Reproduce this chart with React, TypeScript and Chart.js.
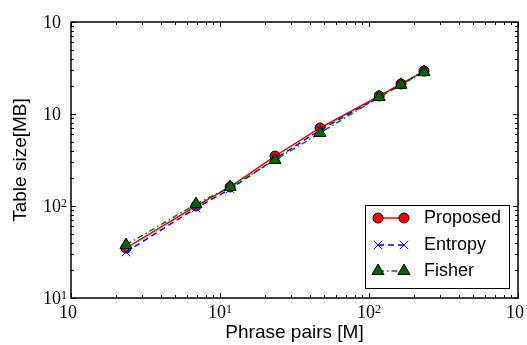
import React, { useEffect, useRef } from "react";
import { Chart, registerables } from "chart.js";

Chart.register(...registerables);

// ---- data ----
const phrasePairs = [2.34, 6.9, 11.7, 23.4, 46.9, 117, 164, 234];
const proposed = [34.9, 100, 161, 349, 705, 1570, 2120, 2930];
const entropy = [31.6, 95, 153, 324, 670, 1530, 2070, 2930];
const fisher = [37.7, 105, 161, 316, 621, 1530, 2080, 2850];
const seriesNames = ["Proposed", "Entropy", "Fisher"];

// tick labels: base "10" with exponent; some exponents are clipped (hidden) in the reference
const xTickExponents = [0, 1, 2, 3];
const xTickSupVisible = [false, true, true, false];
const yTickExponents = [1, 2, 3, 4];
const yTickSupVisible = [true, true, false, false];

const xTitle = "Phrase pairs [M]";
const yTitle = "Table size[MB]";

const SERIF = "'Liberation Serif', 'DejaVu Serif', serif";
const SANS = "'Liberation Sans', Arial, sans-serif";

function drawMarker(ctx: CanvasRenderingContext2D, style: string, x: number, y: number, r: number, fill: string, stroke: string, lw: number) {
  ctx.save();
  ctx.lineWidth = lw;
  ctx.fillStyle = fill;
  ctx.strokeStyle = stroke;
  ctx.beginPath();
  if (style === "circle") {
    ctx.arc(x, y, r, 0, Math.PI * 2);
    ctx.fill();
    ctx.stroke();
  } else if (style === "triangle") {
    let rad = 0;
    ctx.moveTo(x + Math.sin(rad) * r, y - Math.cos(rad) * r);
    rad += (2 * Math.PI) / 3;
    ctx.lineTo(x + Math.sin(rad) * r, y - Math.cos(rad) * r);
    rad += (2 * Math.PI) / 3;
    ctx.lineTo(x + Math.sin(rad) * r, y - Math.cos(rad) * r);
    ctx.closePath();
    ctx.fill();
    ctx.stroke();
  } else if (style === "crossRot") {
    const d = r * Math.SQRT1_2;
    ctx.moveTo(x - d, y - d);
    ctx.lineTo(x + d, y + d);
    ctx.moveTo(x + d, y - d);
    ctx.lineTo(x - d, y + d);
    ctx.stroke();
  }
  ctx.restore();
}

const mplPlugin = {
  id: "mplStyle",
  afterDatasetsDraw(chart: any) {
    const { ctx, chartArea } = chart;
    const { left, right, top, bottom } = chartArea;
    const xs = chart.scales.x;
    const ys = chart.scales.y;
    ctx.save();
    ctx.strokeStyle = "#000";
    ctx.lineWidth = 1;
    // minor & major ticks, inward, on all four sides
    const tickValues = (min: number, max: number) => {
      const out: { v: number; major: boolean }[] = [];
      const e0 = Math.round(Math.log10(min));
      const e1 = Math.round(Math.log10(max));
      for (let e = e0; e < e1; e++) {
        for (let k = 1; k <= 9; k++) out.push({ v: k * Math.pow(10, e), major: k === 1 });
      }
      out.push({ v: Math.pow(10, e1), major: true });
      return out;
    };
    ctx.beginPath();
    for (const t of tickValues(xs.min, xs.max)) {
      const px = Math.round(xs.getPixelForValue(t.v)) + 0.5;
      const len = t.major ? 5 : 3;
      ctx.moveTo(px, bottom);
      ctx.lineTo(px, bottom - len);
      ctx.moveTo(px, top);
      ctx.lineTo(px, top + len);
    }
    for (const t of tickValues(ys.min, ys.max)) {
      const py = Math.round(ys.getPixelForValue(t.v)) + 0.5;
      const len = t.major ? 5 : 3;
      ctx.moveTo(left, py);
      ctx.lineTo(left + len, py);
      ctx.moveTo(right, py);
      ctx.lineTo(right - len, py);
    }
    ctx.stroke();
    // frame
    ctx.lineWidth = 1.5;
    ctx.strokeRect(left, top, right - left, bottom - top);

    // tick labels
    const baseFont = `18px ${SERIF}`;
    const supFont = `12px ${SERIF}`;
    ctx.fillStyle = "#000";
    ctx.textBaseline = "alphabetic";
    ctx.textAlign = "left";
    xTickExponents.forEach((e, i) => {
      const px = xs.getPixelForValue(Math.pow(10, e));
      ctx.font = baseFont;
      const bw = ctx.measureText("10").width;
      ctx.font = supFont;
      const sw = ctx.measureText(String(e)).width;
      const x0 = px - (bw + sw) / 2;
      const base = bottom + 20;
      ctx.font = baseFont;
      ctx.fillText("10", x0, base);
      if (xTickSupVisible[i]) {
        ctx.font = supFont;
        ctx.fillText(String(e), x0 + bw, base - 5.5);
      }
    });
    yTickExponents.forEach((e, i) => {
      const py = ys.getPixelForValue(Math.pow(10, e));
      ctx.font = baseFont;
      const bw = ctx.measureText("10").width;
      ctx.font = supFont;
      const sw = ctx.measureText(String(e)).width;
      const x1 = left - 4;
      const x0 = x1 - sw - bw;
      const base = py + 6;
      ctx.font = baseFont;
      ctx.fillText("10", x0, base);
      if (yTickSupVisible[i]) {
        ctx.font = supFont;
        ctx.fillText(String(e), x0 + bw, base - 5.5);
      }
    });
    ctx.restore();
  },
  afterDraw(chart: any) {
    const { ctx } = chart;
    const bx = 365, by = 205, bw = 144, bh = 83;
    ctx.save();
    ctx.fillStyle = "#fff";
    ctx.fillRect(bx, by, bw, bh);
    ctx.strokeStyle = "#000";
    ctx.lineWidth = 1;
    ctx.strokeRect(bx + 0.5, by + 0.5, bw, bh);
    const rows = [218, 245, 271];
    chart.data.datasets.forEach((ds: any, i: number) => {
      const y = rows[i];
      const x0 = 378, x1 = 404;
      ctx.save();
      ctx.strokeStyle = ds.borderColor;
      ctx.lineWidth = ds.borderWidth;
      ctx.setLineDash(ds.borderDash || []);
      ctx.beginPath();
      ctx.moveTo(x0, y);
      ctx.lineTo(x1, y);
      ctx.stroke();
      ctx.restore();
      for (const mx of [x0, x1]) {
        drawMarker(ctx, ds.pointStyle, mx, y, ds.pointRadius, ds.pointBackgroundColor, ds.pointBorderColor, ds.pointBorderWidth);
      }
      ctx.fillStyle = "#000";
      ctx.font = `18px ${SANS}`;
      ctx.textBaseline = "middle";
      ctx.textAlign = "left";
      ctx.fillText(ds.label, 424, y);
    });
    ctx.restore();
  },
};

export default function App() {
  const ref = useRef<HTMLCanvasElement | null>(null);
  useEffect(() => {
    if (!ref.current) return;
    const mk = (arr: number[]) => phrasePairs.map((v, i) => ({ x: v, y: arr[i] }));
    const chart = new Chart(ref.current, {
      type: "line",
      data: {
        datasets: [
          {
            label: seriesNames[0],
            data: mk(proposed),
            borderColor: "#ff0000",
            borderWidth: 1.5,
            pointStyle: "circle",
            pointRadius: 5,
            pointBackgroundColor: "#ff0000",
            pointBorderColor: "#000000",
            pointBorderWidth: 1,
            order: 2,
          } as any,
          {
            label: seriesNames[1],
            data: mk(entropy),
            borderColor: "#0000ff",
            borderWidth: 1.5,
            borderDash: [6, 4],
            pointStyle: "crossRot",
            pointRadius: 6,
            pointBackgroundColor: "#0000ff",
            pointBorderColor: "#0000ff",
            pointBorderWidth: 1,
            order: 1,
          } as any,
          {
            label: seriesNames[2],
            data: mk(fisher),
            borderColor: "#008000",
            borderWidth: 1.5,
            borderDash: [6, 3, 1.5, 3],
            pointStyle: "triangle",
            pointRadius: 7,
            pointBackgroundColor: "#006400",
            pointBorderColor: "#000000",
            pointBorderWidth: 1,
            order: 0,
          } as any,
        ],
      },
      options: {
        responsive: false,
        animation: false,
        events: [],
        layout: { padding: { top: 22, right: 9, left: 0, bottom: 0 } },
        plugins: { legend: { display: false }, tooltip: { enabled: false } },
        scales: {
          x: {
            type: "logarithmic",
            min: 1,
            max: 1000,
            grid: { display: false },
            border: { display: false },
            ticks: { display: false },
            title: {
              display: true,
              text: xTitle,
              color: "#000",
              font: { family: SANS, size: 19, lineHeight: "24px" },
              padding: { top: 0, bottom: 0 },
            },
            afterFit: (s: any) => {
              s.height = 47;
            },
          },
          y: {
            type: "logarithmic",
            min: 10,
            max: 10000,
            grid: { display: false },
            border: { display: false },
            ticks: { display: false },
            title: {
              display: true,
              text: yTitle,
              color: "#000",
              font: { family: SANS, size: 19, lineHeight: "24px" },
              padding: { top: 9, bottom: 0 },
            },
            afterFit: (s: any) => {
              s.width = 71;
            },
          },
        },
      } as any,
      plugins: [mplPlugin],
    });
    return () => chart.destroy();
  }, []);
  return (
    <div style={{ position: "fixed", left: 0, top: 0, width: 527, height: 345, background: "#fff" }}>
      <canvas ref={ref} width={527} height={345} style={{ display: "block" }} />
    </div>
  );
}
